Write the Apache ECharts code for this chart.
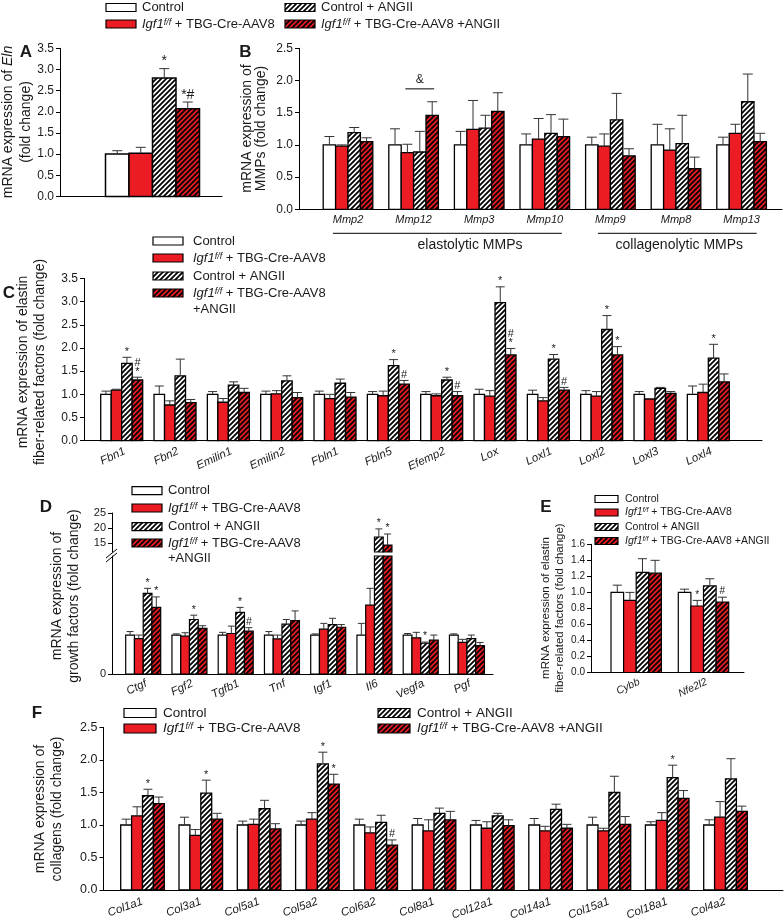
<!DOCTYPE html>
<html>
<head>
<meta charset="utf-8">
<title>Figure</title>
<script src="https://cdn.jsdelivr.net/npm/echarts@6.0.0/dist/echarts.min.js"></script>
<style>
html,body{margin:0;padding:0;background:#fff;}
#chart{width:784px;height:921px;}
</style>
</head>
<body>
<div id="chart"></div>
<script>
// ================= DATA =================
// Panel A – Eln
const aCategories = ['Eln'];
const aControl = [1.00];     const aControlSem = [0.08];
const aIgf1 = [1.02];        const aIgf1Sem = [0.14];
const aControlAng = [2.80];  const aControlAngSem = [0.22];
const aIgf1Ang = [2.07];     const aIgf1AngSem = [0.16];
const aControlAngSig = ['*'];
const aIgf1AngSig = ['*#'];
const aTicks = [0, 3.5, 0.5];

// Panel B – MMPs
const bCategories = ['Mmp2', 'Mmp12', 'Mmp3', 'Mmp10', 'Mmp9', 'Mmp8', 'Mmp13'];
const bControl = [1, 1, 1, 1, 1, 1, 1];
const bControlSem = [0.13, 0.25, 0.21, 0.17, 0.12, 0.32, 0.12];
const bIgf1 = [0.98, 0.88, 1.24, 1.09, 0.98, 0.92, 1.18];
const bIgf1Sem = [0.02, 0.13, 0.45, 0.32, 0.19, 0.33, 0.14];
const bControlAng = [1.19, 0.89, 1.26, 1.18, 1.39, 1.02, 1.67];
const bControlAngSem = [0.08, 0.32, 0.20, 0.29, 0.41, 0.44, 0.43];
const bIgf1Ang = [1.05, 1.46, 1.52, 1.13, 0.83, 0.63, 1.05];
const bIgf1AngSem = [0.06, 0.21, 0.29, 0.27, 0.11, 0.18, 0.13];
const bGroupLabels = ['elastolytic MMPs', 'collagenolytic MMPs'];
const bSigCategory = 1, bSigFromSeries = 1, bSigToSeries = 3, bSigLevel = 1.87, bSigMark = '&';
const bTicks = [0, 2.5, 0.5];

// Panel C – elastin fiber-related factors
const cCategories = ['Fbn1', 'Fbn2', 'Emilin1', 'Emilin2', 'Fbln1', 'Fbln5', 'Efemp2', 'Lox', 'Loxl1', 'Loxl2', 'Loxl3', 'Loxl4'];
const cControl = [1, 1, 1, 1, 1, 1, 1, 1, 1, 1, 1, 1];
const cControlSem = [0.07, 0.18, 0.06, 0.07, 0.07, 0.06, 0.06, 0.11, 0.09, 0.08, 0.06, 0.18];
const cIgf1 = [1.09, 0.77, 0.83, 1.01, 0.91, 0.97, 0.97, 0.96, 0.86, 0.96, 0.90, 1.04];
const cIgf1Sem = [0.02, 0.09, 0.08, 0.07, 0.09, 0.10, 0.04, 0.12, 0.07, 0.10, 0.00, 0.18];
const cControlAng = [1.67, 1.40, 1.20, 1.29, 1.24, 1.62, 1.31, 2.98, 1.76, 2.40, 1.13, 1.78];
const cControlAngSem = [0.13, 0.36, 0.07, 0.11, 0.09, 0.13, 0.06, 0.34, 0.10, 0.30, 0.02, 0.30];
const cIgf1Ang = [1.31, 0.82, 1.04, 0.93, 0.94, 1.22, 0.97, 1.85, 1.09, 1.85, 1.02, 1.27];
const cIgf1AngSem = [0.06, 0.07, 0.09, 0.11, 0.10, 0.08, 0.09, 0.14, 0.06, 0.18, 0.04, 0.17];
const cControlAngSig = ['*', '', '', '', '', '*', '*', '*', '*', '*', '', '*'];
const cIgf1AngSig = ['#\n*', '', '', '', '', '#', '#', '#\n*', '#', '*', '', ''];
const cTicks = [0, 3.5, 0.5];

// Panel D – growth factors (broken axis)
const dCategories = ['Ctgf', 'Fgf2', 'Tgfb1', 'Tnf', 'Igf1', 'Il6', 'Vegfa', 'Pgf'];
const dControl = [1, 1, 1, 1, 1, 1, 1, 1];
const dControlSem = [0.09, 0.03, 0.07, 0.09, 0.03, 0.30, 0.04, 0.03];
const dIgf1 = [0.91, 0.97, 1.04, 0.90, 1.15, 1.77, 0.93, 0.81];
const dIgf1Sem = [0.09, 0.09, 0.19, 0.10, 0.15, 0.43, 0.14, 0.08];
const dControlAng = [2.07, 1.40, 1.58, 1.28, 1.27, 17.0, 0.79, 0.91];
const dControlAngSem = [0.13, 0.11, 0.13, 0.12, 0.16, 2.7, 0.03, 0.09];
const dIgf1Ang = [1.71, 1.17, 1.10, 1.37, 1.20, 14.3, 0.87, 0.73];
const dIgf1AngSem = [0.27, 0.07, 0.09, 0.25, 0.07, 3.7, 0.13, 0.08];
const dControlAngSig = ['*', '*', '*', '', '', '*', '*', ''];
const dIgf1AngSig = ['*', '', '#', '', '', '*', '', ''];
const dLowerRange = [0, 3.03];
const dLowerTickValues = [0];
const dUpperRange = [12, 25];
const dUpperTickValues = [15, 20, 25];

// Panel E – Cybb, Nfe2l2
const eCategories = ['Cybb', 'Nfe2l2'];
const eControl = [1, 1];          const eControlSem = [0.09, 0.04];
const eIgf1 = [0.90, 0.83];       const eIgf1Sem = [0.10, 0.07];
const eControlAng = [1.25, 1.08]; const eControlAngSem = [0.17, 0.09];
const eIgf1Ang = [1.24, 0.88];    const eIgf1AngSem = [0.16, 0.06];
const eIgf1Sig = ['', '*'];
const eIgf1AngSig = ['', '#'];
const eTicks = [0, 1.6, 0.2];

// Panel F – collagens
const fCategories = ['Col1a1', 'Col3a1', 'Col5a1', 'Col5a2', 'Col6a2', 'Col8a1', 'Col12a1', 'Col14a1', 'Col15a1', 'Col18a1', 'Col4a2'];
const fControl = [1, 1, 1, 1, 1, 1, 1, 1, 1, 1, 1];
const fControlSem = [0.09, 0.12, 0.06, 0.06, 0.09, 0.10, 0.07, 0.10, 0.12, 0.05, 0.08];
const fIgf1 = [1.14, 0.84, 1.01, 1.09, 0.88, 0.91, 0.95, 0.91, 0.91, 1.07, 1.12];
const fIgf1Sem = [0.14, 0.09, 0.08, 0.10, 0.09, 0.17, 0.10, 0.07, 0.04, 0.12, 0.24];
const fControlAng = [1.45, 1.49, 1.25, 1.94, 1.04, 1.18, 1.14, 1.24, 1.50, 1.73, 1.71];
const fControlAngSem = [0.10, 0.20, 0.13, 0.18, 0.11, 0.08, 0.04, 0.08, 0.25, 0.19, 0.31];
const fIgf1Ang = [1.33, 1.09, 0.94, 1.63, 0.69, 1.08, 0.99, 0.95, 1.01, 1.41, 1.21];
const fIgf1AngSem = [0.10, 0.09, 0.08, 0.15, 0.08, 0.13, 0.09, 0.06, 0.12, 0.12, 0.08];
const fControlAngSig = ['*', '*', '', '*', '', '', '', '', '', '*', ''];
const fIgf1AngSig = ['', '', '', '*', '#', '', '', '', '', '', ''];
const fTicks = [0, 2.5, 0.5];

// ================= LAYOUT / STYLE =================
const FONT = '"Liberation Sans", Arial, Helvetica, sans-serif';
const INK = '#1a1a1a';
const ERR = '#333333';
const RED = '#ec1c24';

function hatch(bg) {
  const c = document.createElement('canvas');
  c.width = 5; c.height = 5;
  const g = c.getContext('2d');
  g.fillStyle = bg; g.fillRect(0, 0, 5, 5);
  g.strokeStyle = '#000'; g.lineWidth = 1.8;
  g.beginPath();
  g.moveTo(-1, 6); g.lineTo(6, -1);
  g.moveTo(-1, 1); g.lineTo(1, -1);
  g.moveTo(4, 6); g.lineTo(6, 4);
  g.stroke();
  return { image: c, repeat: 'repeat' };
}
const FILLS = ['#ffffff', RED, hatch('#ffffff'), hatch(RED)];

// pixel layout of each panel: axis start/end x, top/bottom y, first group centre, group spacing, bar width
const LAY = {
  A:  { axis: [60, 222],   top: 48.3,  bottom: 196.4, first: 152.5, spacing: 100,   barW: 23.5, lw: 1.5, cap: 10 },
  B:  { axis: [299, 782],  top: 48.3,  bottom: 209.3, first: 348,   spacing: 65.6,  barW: 12.4, lw: 1.3, cap: 10 },
  C:  { axis: [84, 762],   top: 278.5, bottom: 440.7, first: 121.7, spacing: 53.33, barW: 10.5, lw: 1.3, cap: 9 },
  DL: { axis: [112, 493],  top: 556,   bottom: 674,   first: 143.2, spacing: 46.25, barW: 8.75, lw: 1.2, cap: 7 },
  DU: { axis: [112, 493],  top: 513,   bottom: 552,   first: 143.2, spacing: 46.25, barW: 8.75, lw: 1.2, cap: 7 },
  E:  { axis: [591, 744],  top: 544.3, bottom: 672.5, first: 636.2, spacing: 67.3,  barW: 12.6, lw: 1.2, cap: 9 },
  F:  { axis: [103.5, 783], top: 727.5, bottom: 890, first: 142.5, spacing: 58.3,  barW: 10.9, lw: 1.3, cap: 9 }
};
const ORDER = ['A', 'B', 'C', 'DL', 'DU', 'E', 'F'];
const GI = {}; ORDER.forEach((k, i) => GI[k] = i);

function fmt1(v) { return (+v).toFixed(1); }

const grids = ORDER.map(k => {
  const L = LAY[k];
  return { left: L.axis[0], top: L.top, width: L.axis[1] - L.axis[0], height: L.bottom - L.top,
           containLabel: false, outerBoundsMode: 'none' };
});
const xAxes = ORDER.map(k => {
  const L = LAY[k];
  return {
    type: 'value', gridIndex: GI[k],
    min: -(L.first - L.axis[0]) / L.spacing,
    max: (L.axis[1] - L.first) / L.spacing,
    show: k !== 'DU',
    axisLine: { show: true, onZero: false, lineStyle: { color: '#000', width: 1 } },
    axisTick: { show: false }, axisLabel: { show: false }, splitLine: { show: false }
  };
});
function yAx(gi, min, max, o) {
  const ax = {
    type: 'value', gridIndex: gi, min: min, max: max,
    axisLine: { show: true, onZero: false, lineStyle: { color: '#000', width: 1 } },
    axisTick: { show: true, inside: false, length: 4, lineStyle: { color: '#000', width: 1 } },
    axisLabel: { show: true, margin: 6, color: INK, fontFamily: FONT, fontSize: o.fs, formatter: o.fmt || fmt1 },
    splitLine: { show: false }
  };
  if (o.interval) ax.interval = o.interval;
  if (o.custom) { ax.axisLabel.customValues = o.custom; ax.axisTick.customValues = o.custom; }
  return ax;
}
const yAxes = [
  yAx(GI.A, aTicks[0], aTicks[1], { interval: aTicks[2], fs: 12 }),
  yAx(GI.B, bTicks[0], bTicks[1], { interval: bTicks[2], fs: 12 }),
  yAx(GI.C, cTicks[0], cTicks[1], { interval: cTicks[2], fs: 12 }),
  yAx(GI.DL, dLowerRange[0], dLowerRange[1], { custom: dLowerTickValues, fs: 11, fmt: v => String(Math.round(v)) }),
  yAx(GI.DU, dUpperRange[0], dUpperRange[1], { custom: dUpperTickValues, fs: 11, fmt: v => String(Math.round(v)) }),
  yAx(GI.E, eTicks[0], eTicks[1], { interval: eTicks[2], fs: 10 }),
  yAx(GI.F, fTicks[0], fTicks[1], { interval: fTicks[2], fs: 12.5 })
];

function barSeries(key, s, name, vals, sems, sig, range, annSize) {
  const L = LAY[key];
  return {
    type: 'custom', name: name, xAxisIndex: GI[key], yAxisIndex: GI[key], silent: true, z: 2,
    data: vals.map((v, i) => [i, v, v + sems[i]]),
    renderItem: function (params, api) {
      const i = api.value(0), v = api.value(1), e = api.value(2);
      const cs = params.coordSys;
      const unit = api.size([1, 0])[0];
      const bw = unit * L.barW / L.spacing;
      const cx = api.coord([i, 0])[0];
      const x0 = cx + (s - 2) * bw;
      const xc = x0 + bw / 2;
      const yv = api.coord([i, v])[1];
      const y0 = api.coord([i, 0])[1];
      const top = Math.max(yv, cs.y), bot = Math.min(y0, cs.y + cs.height);
      const ch = [];
      if (bot - top > 0.5) {
        ch.push({ type: 'rect', shape: { x: x0, y: top, width: bw, height: bot - top },
                  style: { fill: FILLS[s], stroke: '#000', lineWidth: L.lw } });
      }
      if (v >= range[0] && v <= range[1]) {
        let yT = yv;
        if (e > v + 1e-6) {
          const ye = api.coord([i, e])[1];
          const cw = Math.min(L.cap, bw * 0.85);
          ch.push({ type: 'line', shape: { x1: xc, y1: yv, x2: xc, y2: ye }, style: { stroke: ERR, lineWidth: 1 } });
          ch.push({ type: 'line', shape: { x1: xc - cw / 2, y1: ye, x2: xc + cw / 2, y2: ye }, style: { stroke: ERR, lineWidth: 1 } });
          yT = ye;
        }
        if (sig && sig[i]) {
          ch.push({ type: 'text', x: xc, y: yT - 1,
            style: { text: sig[i], fill: INK, fontFamily: FONT, fontSize: annSize,
                     align: 'center', verticalAlign: 'bottom', textAlign: 'center', textVerticalAlign: 'bottom',
                     lineHeight: Math.round(annSize * 0.85) } });
        }
      }
      return { type: 'group', children: ch };
    }
  };
}

function catLabels(key, cats, o) {
  return {
    type: 'custom', xAxisIndex: GI[key], yAxisIndex: GI[key], silent: true, z: 3,
    data: cats.map((c, i) => [i, 0]),
    renderItem: function (params, api) {
      const i = api.value(0);
      const p = api.coord([i, 0]);
      const rot = o.rot || 0;
      return { type: 'text', x: p[0] + o.dx, y: p[1] + o.dy, rotation: rot * Math.PI / 180,
        style: { text: cats[i], fill: INK, fontFamily: FONT, fontSize: o.size, fontStyle: 'italic',
                 align: rot ? 'right' : 'center', verticalAlign: rot ? 'middle' : 'top',
                 textAlign: rot ? 'right' : 'center', textVerticalAlign: rot ? 'middle' : 'top' } };
    }
  };
}

function panel(key, cats, groups, sigs, range, annSize, labelOpt) {
  const names = ['Control', 'Igf1f/f + TBG-Cre-AAV8', 'Control + ANGII', 'Igf1f/f + TBG-Cre-AAV8 +ANGII'];
  const out = groups.map((g, s) => barSeries(key, s, names[s], g[0], g[1], sigs[s], range, annSize));
  if (labelOpt) out.push(catLabels(key, cats, labelOpt));
  return out;
}

const series = [].concat(
  panel('A', aCategories, [[aControl, aControlSem], [aIgf1, aIgf1Sem], [aControlAng, aControlAngSem], [aIgf1Ang, aIgf1AngSem]],
        [null, null, aControlAngSig, aIgf1AngSig], [0, 3.5], 14, null),
  panel('B', bCategories, [[bControl, bControlSem], [bIgf1, bIgf1Sem], [bControlAng, bControlAngSem], [bIgf1Ang, bIgf1AngSem]],
        [null, null, null, null], [0, 2.5], 11, { dx: 0, dy: 5, size: 11 }),
  panel('C', cCategories, [[cControl, cControlSem], [cIgf1, cIgf1Sem], [cControlAng, cControlAngSem], [cIgf1Ang, cIgf1AngSem]],
        [null, null, cControlAngSig, cIgf1AngSig], [0, 3.5], 11, { dx: 3, dy: 10, size: 11.5, rot: 25 }),
  panel('DL', dCategories, [[dControl, dControlSem], [dIgf1, dIgf1Sem], [dControlAng, dControlAngSem], [dIgf1Ang, dIgf1AngSem]],
        [null, null, dControlAngSig, dIgf1AngSig], dLowerRange, 10.5, { dx: 3, dy: 9, size: 11.5, rot: 25 }),
  panel('DU', dCategories, [[dControl, dControlSem], [dIgf1, dIgf1Sem], [dControlAng, dControlAngSem], [dIgf1Ang, dIgf1AngSem]],
        [null, null, dControlAngSig, dIgf1AngSig], dUpperRange, 10.5, null),
  panel('E', eCategories, [[eControl, eControlSem], [eIgf1, eIgf1Sem], [eControlAng, eControlAngSem], [eIgf1Ang, eIgf1AngSem]],
        [null, eIgf1Sig, null, eIgf1AngSig], [0, 1.6], 10, { dx: 3, dy: 9, size: 10.5, rot: 25 }),
  panel('F', fCategories, [[fControl, fControlSem], [fIgf1, fIgf1Sem], [fControlAng, fControlAngSem], [fIgf1Ang, fIgf1AngSem]],
        [null, null, fControlAngSig, fIgf1AngSig], [0, 2.5], 11, { dx: 0, dy: 11, size: 11.5, rot: 20 })
);

// Panel B: group brackets (positions in category units) and the & comparison
const bBracketLayout = [[-0.23, 3.26, 1.86], [3.81, 6.23, 5.05]];
series.push({
  type: 'custom', xAxisIndex: GI.B, yAxisIndex: GI.B, silent: true, z: 3,
  data: bGroupLabels.map((t, i) => [i, 0]),
  renderItem: function (params, api) {
    const i = api.value(0);
    const b = bBracketLayout[i];
    const p1 = api.coord([b[0], 0]), p2 = api.coord([b[1], 0]), pt = api.coord([b[2], 0]);
    return { type: 'group', children: [
      { type: 'line', shape: { x1: p1[0], y1: p1[1] + 24, x2: p2[0], y2: p1[1] + 24 }, style: { stroke: '#000', lineWidth: 1 } },
      { type: 'text', x: pt[0], y: p1[1] + 36, style: { text: bGroupLabels[i], fill: INK, fontFamily: FONT, fontSize: 14,
        align: 'center', verticalAlign: 'middle', textAlign: 'center', textVerticalAlign: 'middle' } }
    ] };
  }
});
series.push({
  type: 'custom', xAxisIndex: GI.B, yAxisIndex: GI.B, silent: true, z: 3,
  data: [[bSigCategory, bSigLevel]],
  renderItem: function (params, api) {
    const L = LAY.B;
    const unit = api.size([1, 0])[0];
    const bw = unit * L.barW / L.spacing;
    const p = api.coord([api.value(0), api.value(1)]);
    const xa = p[0] + (bSigFromSeries - 2) * bw + bw / 2 - 2;
    const xb = p[0] + (bSigToSeries - 2) * bw + bw / 2 + 2;
    return { type: 'group', children: [
      { type: 'line', shape: { x1: xa, y1: p[1], x2: xb, y2: p[1] }, style: { stroke: '#000', lineWidth: 1 } },
      { type: 'text', x: (xa + xb) / 2, y: p[1] - 3, style: { text: bSigMark, fill: INK, fontFamily: FONT, fontSize: 12,
        align: 'center', verticalAlign: 'bottom', textAlign: 'center', textVerticalAlign: 'bottom' } }
    ] };
  }
});

// ================= GRAPHIC TEXT / LEGENDS =================
function T(x, y, text, o) {
  o = o || {};
  const st = { text: text, fill: INK, fontFamily: FONT, fontSize: o.size || 14,
    fontStyle: o.italic ? 'italic' : 'normal', fontWeight: o.bold ? 'bold' : 'normal',
    align: o.align || 'center', verticalAlign: o.va || 'middle',
    textAlign: o.align || 'center', textVerticalAlign: o.va || 'middle' };
  if (o.rich) st.rich = o.rich;
  return { type: 'text', x: x, y: y, rotation: o.rot || 0, silent: true, z: 10, style: st };
}
function richSet(size) {
  return {
    n: { fontSize: size, fontFamily: FONT, fill: INK },
    i: { fontSize: size, fontFamily: FONT, fontStyle: 'italic', fill: INK },
    s: { fontSize: Math.round(size * 0.66), fontFamily: FONT, fontStyle: 'italic', fill: INK, verticalAlign: 'top' }
  };
}
const IGF = '{i|Igf1}{s|f/f}{n| + TBG-Cre-AAV8}';
const R90 = Math.PI / 2;

function legend(items, size, bw, bh) {
  const els = [];
  items.forEach(it => {
    els.push({ type: 'rect', silent: true, z: 10, shape: { x: it[0], y: it[1] - bh / 2, width: bw, height: bh },
               style: { fill: FILLS[it[2]], stroke: '#000', lineWidth: 1.2 } });
    const isRich = it[4].indexOf('{') >= 0;
    els.push(T(it[3], it[1], it[4], { size: size, align: 'left', rich: isRich ? richSet(size) : null }));
  });
  return els;
}

const graphics = [].concat(
  // panel letters
  T(26, 52, 'A', { size: 17, bold: true }),
  T(245.5, 52, 'B', { size: 17, bold: true }),
  T(9, 293, 'C', { size: 17, bold: true }),
  T(46, 507, 'D', { size: 17, bold: true }),
  T(546, 507, 'E', { size: 17, bold: true }),
  T(37, 713, 'F', { size: 17, bold: true }),
  // axis titles
  T(8, 122, '{n|mRNA expression of }{i|Eln}', { rot: R90, rich: richSet(14) }),
  T(26, 122, '(fold change)', { rot: R90 }),
  T(247.5, 128.5, 'mRNA expression of', { rot: R90 }),
  T(261, 128.5, 'MMPs (fold change)', { rot: R90 }),
  T(23.5, 362, 'mRNA expression of elastin', { rot: R90 }),
  T(40, 362, 'fiber-related factors (fold change)', { rot: R90 }),
  T(57, 596, 'mRNA expression of', { rot: R90 }),
  T(74, 596, 'growth factors (fold change)', { rot: R90 }),
  T(546, 608, 'mRNA expression of elastin', { rot: R90, size: 11.5 }),
  T(560, 608, 'fiber-related factors (fold change)', { rot: R90, size: 11.5 }),
  T(40, 809, 'mRNA expression of', { rot: R90 }),
  T(57, 809, 'collagens (fold change)', { rot: R90 }),
  // legends
  legend([[106, 7.5, 0, 142, 'Control'], [106, 24, 1, 142, IGF],
          [285, 7.5, 2, 321, 'Control + ANGII'], [285, 24, 3, 321, '{i|Igf1}{s|f/f}{n| + TBG-Cre-AAV8 +ANGII}']], 13, 30, 8),
  legend([[153, 241, 0, 193, 'Control'], [153, 258, 1, 193, IGF],
          [153, 276, 2, 193, 'Control + ANGII'], [153, 293, 3, 193, IGF]], 13, 30, 8),
  T(193, 309.5, '+ANGII', { size: 13, align: 'left' }),
  legend([[132, 490.7, 0, 168, 'Control'], [132, 508, 1, 168, IGF],
          [132, 526.7, 2, 168, 'Control + ANGII'], [132, 543, 3, 168, IGF]], 13, 30, 8),
  T(168, 558, '+ANGII', { size: 13, align: 'left' }),
  legend([[595, 499, 0, 625, 'Control'], [595, 512.5, 1, 625, IGF],
          [595, 527, 2, 625, 'Control + ANGII'], [595, 541, 3, 625, '{i|Igf1}{s|f/f}{n| + TBG-Cre-AAV8 +ANGII}']], 10.5, 23, 7),
  legend([[124, 713, 0, 163, 'Control'], [124, 728.5, 1, 163, IGF],
          [378, 713, 2, 417, 'Control + ANGII'], [378, 728.5, 3, 417, '{i|Igf1}{s|f/f}{n| + TBG-Cre-AAV8 +ANGII}']], 13.5, 32, 9),
  // axis-break marks on panel D
  [{ type: 'line', silent: true, z: 10, shape: { x1: 106, y1: 558, x2: 117, y2: 549 }, style: { stroke: '#000', lineWidth: 1 } },
   { type: 'line', silent: true, z: 10, shape: { x1: 106, y1: 562, x2: 117, y2: 553 }, style: { stroke: '#000', lineWidth: 1 } }]
);

const chart = echarts.init(document.getElementById('chart'), null, { renderer: 'canvas' });
chart.setOption({
  animation: false,
  backgroundColor: '#ffffff',
  textStyle: { fontFamily: FONT },
  grid: grids,
  xAxis: xAxes,
  yAxis: yAxes,
  series: series,
  graphic: { elements: graphics }
});
</script>
</body>
</html>
